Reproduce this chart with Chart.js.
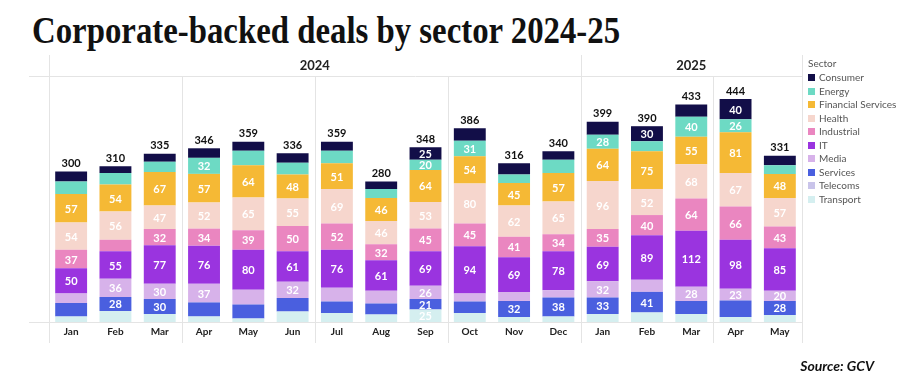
<!DOCTYPE html>
<html>
<head>
<meta charset="utf-8">
<script src="https://cdn.jsdelivr.net/npm/chart.js@4"></script>
<style>
  body { margin: 0; background: #fff; width: 902px; height: 383px; overflow: hidden; position: relative; font-family: Lato, "Open Sans", sans-serif; }
  #myChart { position: absolute; left: 0; top: 0; }
  #title { position: absolute; left: 32px; top: 8px; font-family: "Liberation Serif", serif; font-weight: bold; font-size: 38px; color: #111; white-space: nowrap; transform-origin: left top; }
  #legend { position: absolute; left: 808px; top: 57px; font-size: 10px; color: #555; }
  #legend .head { margin-bottom: 2px; height: 12px; line-height: 12px; }
  #legend .item { height: 13.5px; line-height: 13.5px; white-space: nowrap; }
  #legend .box { display: inline-block; width: 7px; height: 7px; margin-right: 4px; vertical-align: 0px; }
  #source { position: absolute; right: 28px; top: 357px; font-size: 14px; font-weight: bold; font-style: italic; color: #111; }
</style>
</head>
<body>
<div id="title">Corporate-backed deals by sector 2024-25</div>
<canvas id="myChart" width="902" height="383"></canvas>
<div id="legend"></div>
<div id="source">Source: GCV</div>
<script>
// months and the year each one belongs to
var months = ["Jan", "Feb", "Mar", "Apr", "May", "Jun", "Jul", "Aug", "Sep", "Oct", "Nov", "Dec", "Jan", "Feb", "Mar", "Apr", "May"];
var monthYear = ["2024", "2024", "2024", "2024", "2024", "2024", "2024", "2024", "2024", "2024", "2024", "2024", "2025", "2025", "2025", "2025", "2025"];

// deals per sector (legend order, top of the stack first)
var consumer   = [20, 13, 16, 19, 18, 19, 18, 15, 25, 25, 22, 17, 26, 30, 24, 40, 19];
var energy     = [25, 23, 20, 32, 29, 23, 25, 18, 20, 31, 17, 26, 28, 20, 40, 26, 17];
var financial  = [57, 54, 67, 57, 64, 48, 51, 46, 64, 54, 45, 57, 64, 75, 55, 81, 48];
var health     = [54, 56, 47, 52, 65, 55, 69, 46, 53, 80, 62, 65, 96, 52, 68, 67, 57];
var industrial = [37, 23, 32, 34, 39, 50, 52, 32, 45, 45, 41, 34, 35, 40, 64, 66, 43];
var it         = [50, 55, 77, 76, 80, 61, 76, 61, 69, 94, 69, 78, 69, 89, 112, 98, 85];
var media      = [19, 36, 30, 37, 29, 32, 27, 25, 26, 16, 18, 14, 32, 24, 28, 23, 20];
var services   = [27, 28, 30, 28, 28, 27, 23, 22, 21, 23, 32, 38, 33, 41, 26, 33, 28];
var telecoms   = [0, 0, 0, 0, 0, 0, 0, 0, 0, 0, 0, 0, 0, 0, 0, 0, 0];
var transport  = [11, 22, 16, 11, 7, 21, 18, 15, 25, 18, 10, 11, 16, 19, 16, 10, 14];

var sectors = [
    { name: "Consumer",           data: consumer,   color: "#120e48" },
    { name: "Energy",             data: energy,     color: "#6ddac4" },
    { name: "Financial Services", data: financial,  color: "#f5b935" },
    { name: "Health",             data: health,     color: "#f6d6cd" },
    { name: "Industrial",         data: industrial, color: "#ea86c0" },
    { name: "IT",                 data: it,         color: "#9a34df" },
    { name: "Media",              data: media,      color: "#d7b2ea" },
    { name: "Services",           data: services,   color: "#4a5fdf" },
    { name: "Telecoms",           data: telecoms,   color: "#c9c4ea" },
    { name: "Transport",          data: transport,  color: "#d5eff0" }
];

// small segments that still carry a label in the original (month index)
var smallLabelled = {
    "Consumer": [8],
    "Energy": [8, 12, 15],
    "Media": [8, 14, 15, 16],
    "Services": [1, 8, 16],
    "Transport": [8]
};
// bigger segments left without a label in the original
var unlabelled = {
    "Services": [15]
};

// legend (html)
var legend = document.getElementById("legend");
var html = '<div class="head">Sector</div>';
sectors.forEach(function (s) {
    html += '<div class="item"><span class="box" style="background:' + s.color + '"></span>' + s.name + '</div>';
});
legend.innerHTML = html;

// squeeze the serif title to the width of the original
var title = document.getElementById("title");
title.style.transform = "scaleX(" + (588 / title.offsetWidth) + ")";

var font = "Lato, 'Open Sans', sans-serif";

var decorations = {
    id: "decorations",
    beforeDatasetsDraw: function (chart) {
        var c = chart.ctx, x = chart.scales.x, a = chart.chartArea;
        var half = (x.getPixelForValue(1) - x.getPixelForValue(0)) / 2;
        c.save();
        c.strokeStyle = "#e4e4e4";
        c.lineWidth = 1;
        // horizontal rules
        c.beginPath();
        c.moveTo(29, a.top + 0.5); c.lineTo(a.right, a.top + 0.5);
        c.moveTo(29, a.bottom + 0.5); c.lineTo(a.right, a.bottom + 0.5);
        c.stroke();
        // quarter and year separators
        for (var i = 0; i <= months.length; i++) {
            var px = Math.round((i < months.length ? x.getPixelForValue(i) - half : x.getPixelForValue(i - 1) + half)) + 0.5;
            var yearEdge = i === 0 || i === months.length || monthYear[i] !== monthYear[i - 1];
            if (!yearEdge && i % 3 !== 0) continue;
            c.beginPath();
            c.moveTo(px, yearEdge ? 55 : a.top);
            c.lineTo(px, 343);
            c.stroke();
        }
        c.restore();
    },
    afterDatasetsDraw: function (chart) {
        var c = chart.ctx, x = chart.scales.x;
        c.save();
        c.textAlign = "center";
        c.textBaseline = "middle";
        // segment labels
        chart.data.datasets.forEach(function (ds, di) {
            var meta = chart.getDatasetMeta(di);
            var extra = smallLabelled[ds.label] || [];
            var skip = unlabelled[ds.label] || [];
            c.font = "bold 11px " + font;
            c.fillStyle = "#fff";
            meta.data.forEach(function (bar, i) {
                var v = ds.data[i];
                if (v < 30 && extra.indexOf(i) < 0) return;
                if (skip.indexOf(i) >= 0) return;
                c.fillText(v, bar.x, (bar.y + bar.base) / 2 + 1);
            });
        });
        // totals
        var top = chart.getDatasetMeta(chart.data.datasets.length - 1);
        c.font = "bold 11px " + font;
        c.fillStyle = "#111";
        months.forEach(function (m, i) {
            var total = 0;
            sectors.forEach(function (s) { total += s.data[i]; });
            c.fillText(total, top.data[i].x, top.data[i].y - 8);
        });
        // month ticks
        c.font = "bold 10px " + font;
        c.fillStyle = "#222";
        months.forEach(function (m, i) {
            c.fillText(m, x.getPixelForValue(i), 332);
        });
        // year headers
        c.font = "bold 13px " + font;
        var start = 0;
        for (var i = 1; i <= months.length; i++) {
            if (i === months.length || monthYear[i] !== monthYear[start]) {
                var mid = (x.getPixelForValue(start) + x.getPixelForValue(i - 1)) / 2;
                c.fillText(monthYear[start], mid, 66);
                start = i;
            }
        }
        c.restore();
    }
};

var ctx = document.getElementById("myChart").getContext("2d");

var myChart = new Chart(ctx, {
    type: "bar",
    data: {
        labels: months,
        datasets: sectors.slice().reverse().map(function (s) {
            return {
                label: s.name,
                data: s.data,
                backgroundColor: s.color,
                borderWidth: 0,
                categoryPercentage: 1,
                barPercentage: 0.72
            };
        })
    },
    options: {
        responsive: false,
        animation: false,
        layout: { padding: { left: 49, right: 100, top: 76, bottom: 61 } },
        plugins: { legend: { display: false }, tooltip: { enabled: false } },
        scales: {
            x: { stacked: true, display: false },
            y: { stacked: true, display: false, min: 0, max: 490 }
        }
    },
    plugins: [decorations]
});
</script>
</body>
</html>
